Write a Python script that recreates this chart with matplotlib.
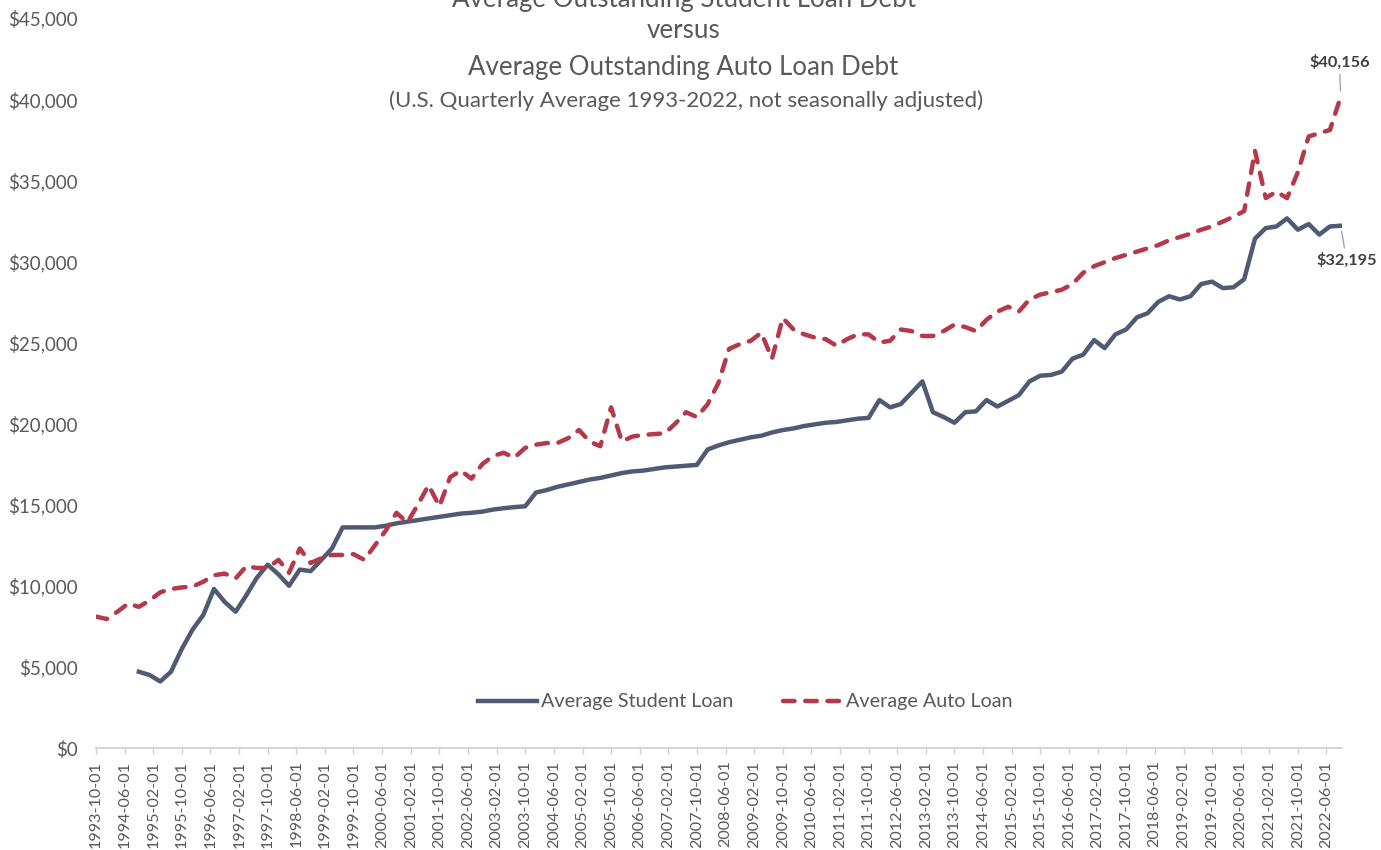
import pandas as pd
import matplotlib
matplotlib.use("Agg")
import matplotlib.pyplot as plt
import matplotlib.ticker as mticker
import matplotlib.dates as mdates

plt.rcParams['font.family'] = ['Lato', 'DejaVu Sans']

# quarterly dates, 1993-10-01 .. 2022-10-01
quarters = pd.date_range('1993-10-01', '2022-10-01', freq='QS-OCT')

auto_loan = [
    8100, 7950, 8400, 8900, 8700, 9100, 9600, 9800, 9900, 9950,
    10250, 10650, 10750, 10450, 11200, 11100, 11100, 11600, 10800, 12300,
    11400, 11700, 11900, 11900, 11950, 11600, 12500, 13400, 14500, 13900,
    15000, 16200, 14900, 16700, 17100, 16600, 17500, 18000, 18200, 17900,
    18500, 18700, 18800, 18800, 19100, 19600, 18900, 18600, 21000, 18900,
    19200, 19300, 19350, 19400, 20000, 20700, 20400, 21200, 22500, 24600,
    24900, 25100, 25600, 24000, 26500, 25800, 25500, 25300, 25200, 24800,
    25200, 25500, 25500, 25000, 25100, 25800, 25700, 25400, 25400, 25700,
    26100, 25950, 25700, 26400, 26900, 27200, 26900, 27650, 27950, 28100,
    28250, 28600, 29300, 29700, 29950, 30200, 30400, 30600, 30800, 31000,
    31300, 31500, 31700, 31950, 32150, 32450, 32750, 33100, 36800, 33900,
    34300, 33900, 35500, 37700, 37900, 38100, 40156,
]

# student loan series starts 1994-10-01
student_start = 4
student_loan = [
    4700, 4500, 4100, 4700, 6100, 7300, 8200, 9800, 9000, 8400,
    9400, 10500, 11300, 10700, 10000, 11000, 10900, 11600, 12300, 13600,
    13600, 13600, 13600, 13700, 13850, 13950, 14050, 14150, 14250, 14350,
    14450, 14500, 14570, 14700, 14780, 14850, 14900, 15750, 15900, 16100,
    16250, 16400, 16550, 16650, 16800, 16950, 17050, 17100, 17200, 17300,
    17350, 17400, 17450, 18400, 18650, 18850, 19000, 19150, 19250, 19450,
    19600, 19700, 19850, 19950, 20050, 20100, 20200, 20300, 20350, 21450,
    21000, 21200, 21900, 22600, 20700, 20400, 20050, 20700, 20750, 21450,
    21050, 21400, 21750, 22600, 22950, 23000, 23200, 24000, 24250, 25150,
    24650, 25500, 25800, 26550, 26800, 27500, 27850, 27650, 27850, 28600,
    28750, 28350, 28400, 28900, 31400, 32050, 32150, 32650, 31950, 32300,
    31650, 32150, 32195,
]
student_dates = quarters[student_start:]

tick_dates = pd.date_range('1993-10-01', '2022-06-01', freq='8MS')

student_color = '#4f5a75'
auto_color = '#b5394a'
text_color = '#595959'

fig = plt.figure(figsize=(13.81, 8.5), dpi=100)
ax = fig.add_axes([0.0695, 0.12, 0.9023, 0.8588])

ax.plot(student_dates, student_loan, color=student_color, lw=3.2,
        solid_joinstyle='round', label='Average Student Loan')
ax.plot(quarters, auto_loan, color=auto_color, lw=3.2, ls=(0, (2.6, 2.4)),
        dash_capstyle='round', label='Average Auto Loan')

ax.set_ylim(0, 45000)
ax.set_xlim(pd.Timestamp('1993-10-01'), pd.Timestamp('2022-10-12'))
ax.yaxis.set_major_locator(mticker.MultipleLocator(5000))
ax.yaxis.set_major_formatter(mticker.FuncFormatter(lambda v, p: f'${v:,.0f}'))
ax.set_xticks(tick_dates)
ax.xaxis.set_major_formatter(mdates.DateFormatter('%Y-%m-%d'))

for s in ['top', 'right', 'left']:
    ax.spines[s].set_visible(False)
ax.spines['bottom'].set_color('#d0d0d0')
ax.spines['bottom'].set_linewidth(1.2)
ax.tick_params(axis='y', length=0, pad=13, labelsize=13.5, labelcolor=text_color)
ax.tick_params(axis='x', length=4, width=1, color='#d0d0d0', pad=5,
               labelsize=11.6, labelcolor=text_color, labelrotation=90)

# end labels
ax.annotate('$40,156', xy=(quarters[-1], auto_loan[-1]), xytext=(-1, 19),
            textcoords='offset points', ha='center', va='bottom',
            fontsize=11.8, fontweight='bold', color='#404040',
            arrowprops=dict(arrowstyle='-', color='#a6a6a6', lw=1,
                            shrinkA=1, shrinkB=4))
ax.annotate('$32,195', xy=(student_dates[-1], student_loan[-1]), xytext=(4, -19),
            textcoords='offset points', ha='center', va='top',
            fontsize=11.8, fontweight='bold', color='#404040',
            arrowprops=dict(arrowstyle='-', color='#a6a6a6', lw=1,
                            shrinkA=1, shrinkB=4))

# title block
fig.text(0.495, 1.0, 'Average Outstanding Student Loan Debt', ha='center', va='center',
         fontsize=18.6, color=text_color)
fig.text(0.495, 1 - 30 / 850, 'versus', ha='center', va='center',
         fontsize=18.6, color=text_color)
fig.text(0.495, 1 - 67 / 850, 'Average Outstanding Auto Loan Debt', ha='center', va='center',
         fontsize=18.6, color=text_color)
fig.text(0.497, 1 - 101 / 850, '(U.S. Quarterly Average 1993-2022, not seasonally adjusted)',
         ha='center', va='center', fontsize=16, color=text_color)

ax.legend(loc='center', bbox_to_anchor=(745 / 1381, 1 - 702 / 850),
          bbox_transform=fig.transFigure, ncol=2, frameon=False,
          fontsize=14.2, labelcolor=text_color, handlelength=3.0,
          handletextpad=0.2, columnspacing=2.5)

fig.savefig('out.png', dpi=100)
